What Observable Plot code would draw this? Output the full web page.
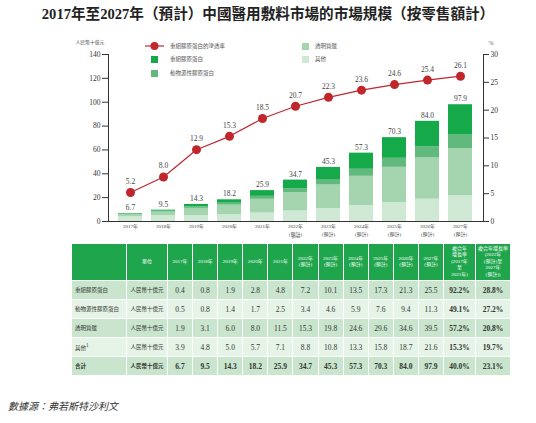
<!DOCTYPE html>
<html><head><meta charset="utf-8">
<script src="https://cdn.jsdelivr.net/npm/d3@7"></script>
<script src="https://cdn.jsdelivr.net/npm/@observablehq/plot@0.6"></script>
<style>
body{margin:0;background:#fff;width:536px;height:423px;overflow:hidden;font-family:"Liberation Serif","Noto Sans CJK TC",serif;color:#333;}
#title{height:28px;line-height:28px;text-align:center;font-size:14.6px;font-weight:bold;color:#222;font-family:"Liberation Serif","Noto Sans CJK TC",serif;white-space:nowrap;}
#chart{position:relative;height:212px;}
#chart svg{position:absolute;left:0;top:0;}
.lg{position:absolute;font-size:5.5px;color:#555;font-family:"Noto Sans CJK TC",sans-serif;white-space:nowrap;line-height:8px;}
.sw{position:absolute;width:7px;height:7px;}
#tbl{margin-left:71px;margin-top:3px;border-collapse:collapse;table-layout:fixed;width:439px;}
#tbl td,#tbl th{border:1.5px solid #fff;padding:0;text-align:center;font-size:7.5px;color:#333;font-weight:normal;}
#tbl th{background:#1fa64d;color:#fff;font-size:5px;line-height:6.5px;height:36px;font-family:"Liberation Serif","Noto Sans CJK TC",serif;}
#tbl tr.d td{height:18px;}
#tbl tr.odd td{background:#c9e5cd;}
#tbl tr.even td{background:#e6f3e7;}
#tbl td.lab{text-align:left;padding-left:3px;font-size:5.5px;font-family:"Noto Sans CJK TC",sans-serif;}
#tbl td.unit{font-size:5.5px;font-family:"Noto Sans CJK TC",sans-serif;}
#tbl td.b{font-weight:bold;}
#tbl tr.tot td{font-weight:bold;}
#src{margin-top:22px;margin-left:8px;font-size:10px;font-style:italic;color:#333;font-family:"Noto Sans CJK TC",sans-serif;}
</style></head><body>
<div id="title">2017年至2027年（預計）中國醫用敷料市場的市場規模（按零售額計）</div>
<div id="chart"></div>
<table id="tbl"></table>
<div id="src">數據源：弗若斯特沙利文</div>
<script>
const years = ["2017","2018","2019","2020","2021","2022","2023","2024","2025","2026","2027"];
const yearLabels = ["2017年","2018年","2019年","2020年","2021年","2022年\n(預計)","2023年\n(預計)","2024年\n(預計)","2025年\n(預計)","2026年\n(預計)","2027年\n(預計)"];
const recombinant = [0.4,0.8,1.9,2.8,4.8,7.2,10.1,13.5,17.3,21.3,25.5];
const animal = [0.5,0.8,1.4,1.7,2.5,3.4,4.6,5.9,7.6,9.4,11.3];
const hyaluronic = [1.9,3.1,6.0,8.0,11.5,15.3,19.8,24.6,29.6,34.6,39.5];
const others = [3.9,4.8,5.0,5.7,7.1,8.8,10.8,13.3,15.8,18.7,21.6];
const totals = [6.7,9.5,14.3,18.2,25.9,34.7,45.3,57.3,70.3,84.0,97.9];
const penetration = [5.2,8.0,12.9,15.3,18.5,20.7,22.3,23.6,24.6,25.4,26.1];
const cagr1721 = ["92.2%","49.1%","57.2%","15.3%","40.0%"];
const cagr2227 = ["28.8%","27.2%","20.8%","19.7%","23.1%"];
const seriesNames = ["重組膠原蛋白","動物源性膠原蛋白","透明質酸","其他"];
const tableLabels = ["重組膠原蛋白","動物源性膠原蛋白","透明質酸","其他<sup>1</sup>","合計"];
const lineName = "重組膠原蛋白的滲透率";
const unitLabel = "人民幣十億元";
const leftTicks = [0,20,40,60,80,100,120,140];
const rightTicks = [0,5,10,15,20,25,30];
const colors = ["#16a94a","#62b97d","#a5d5ae","#d0e9d4"];
const red = "#c0272d";

const K = 140/30;
const seriesArrays = [recombinant, animal, hyaluronic, others];
const long = [];
years.forEach((y,i)=>{
  for (let s = 3; s >= 0; s--) long.push({year:y, name:seriesNames[s], value:seriesArrays[s][i]});
});
const rows = years.map((y,i)=>({year:y,total:totals[i],pen:penetration[i],penScaled:penetration[i]*K}));

const plot = Plot.plot({
  width:536, height:212, marginTop:26, marginBottom:19, marginLeft:108, marginRight:53,
  style:{fontFamily:'"Liberation Serif","Noto Sans CJK TC",serif', fontSize:"7.5px", color:"#333", background:"transparent", overflow:"visible"},
  x:{type:"band", domain:years, paddingInner:0.27, paddingOuter:0.15, axis:null},
  y:{domain:[0,140], axis:null},
  color:{domain:seriesNames, range:colors},
  marks:[
    Plot.barY(long, {x:"year", y:"value", fill:"name"}),
    Plot.ruleY([0], {stroke:"#333", strokeWidth:1}),
    Plot.frame({anchor:"left", stroke:"#333", strokeWidth:1}),
    Plot.frame({anchor:"right", stroke:"#333", strokeWidth:1}),
    Plot.axisX({tickSize:0, tickPadding:0.5, tickFormat:d=>yearLabels[years.indexOf(d)], fontSize:5, lineHeight:1.6, fill:"#444"}),
    Plot.axisY(leftTicks, {anchor:"left", tickSize:6, tickPadding:2, label:null, fontSize:7.5, fill:"#333"}),
    Plot.axisY(rightTicks.map(v=>v*K), {anchor:"right", tickSize:5, tickPadding:2, label:null, tickFormat:d=>String(Math.round(d/K)), fontSize:7.5, fill:"#333"}),
    Plot.text(rows, {x:"year", y:"total", text:d=>d.total.toFixed(1), dy:-6, fontSize:7.5, fill:"#444"}),
    Plot.line(rows, {x:"year", y:"penScaled", stroke:red, strokeWidth:1.2}),
    Plot.dot(rows, {x:"year", y:"penScaled", r:4.5, fill:red}),
    Plot.text(rows, {x:"year", y:"penScaled", text:d=>d.pen.toFixed(1), dy:-11, fontSize:7.5, fill:"#444"}),
    Plot.text([unitLabel], {frameAnchor:"top-left", dx:-33, dy:-14, fontSize:4.8, fill:"#555", textAnchor:"start"}),
    Plot.text(["%"], {frameAnchor:"top-right", dx:5, dy:-14, fontSize:6, fill:"#555", textAnchor:"start"})
  ]
});
const chart = document.getElementById("chart");
chart.appendChild(plot);

// legend
function addText(txt, x, y){const d=document.createElement("div");d.className="lg";d.textContent=txt;d.style.left=x+"px";d.style.top=(y-4)+"px";chart.appendChild(d);}
function addSwatch(c, x, y){const d=document.createElement("div");d.className="sw";d.style.background=c;d.style.left=x+"px";d.style.top=(y-3.5)+"px";chart.appendChild(d);}
const ls = document.createElement("div");
ls.style.cssText="position:absolute;left:145px;top:13px;width:19px;height:10px;";
ls.innerHTML='<svg width="19" height="10"><line x1="0" y1="5" x2="19" y2="5" stroke="'+red+'" stroke-width="1.2"/><circle cx="9.5" cy="5" r="4" fill="'+red+'"/></svg>';
chart.appendChild(ls);
addText(lineName, 170, 18);
addSwatch(colors[0], 151, 31); addText(seriesNames[0], 170, 31);
addSwatch(colors[1], 151, 45); addText(seriesNames[1], 170, 45);
addSwatch(colors[2], 302, 18); addText(seriesNames[2], 315, 18);
addSwatch(colors[3], 302, 31); addText(seriesNames[3], 315, 31);

// table
const tbl = document.getElementById("tbl");
const widths = [55,41].concat(years.map(()=>25.1)).concat([32,35]);
let html = "<colgroup>" + widths.map(w=>'<col style="width:'+w+'px">').join("") + "</colgroup>";
html += "<tr><th></th><th>單位</th>" + yearLabels.map(l=>"<th>"+l.replace("\n","<br>")+"</th>").join("") +
  "<th>複合年<br>增長率<br>(2017年<br>至<br>2021年)</th><th>複合年增長率<br>(2022年<br>(預計)至<br>2027年<br>(預計))</th></tr>";
const tableSeries = [recombinant, animal, hyaluronic, others, totals];
tableSeries.forEach((arr,r)=>{
  const cls = "d " + (r%2===0?"odd":"even") + (r===4?" tot":"");
  html += '<tr class="'+cls+'"><td class="lab">'+tableLabels[r]+'</td><td class="unit">'+unitLabel+'</td>' +
    arr.map(v=>"<td>"+v.toFixed(1)+"</td>").join("") +
    '<td class="b">'+cagr1721[r]+'</td><td class="b">'+cagr2227[r]+'</td></tr>';
});
tbl.innerHTML = html;
</script>
</body></html>
